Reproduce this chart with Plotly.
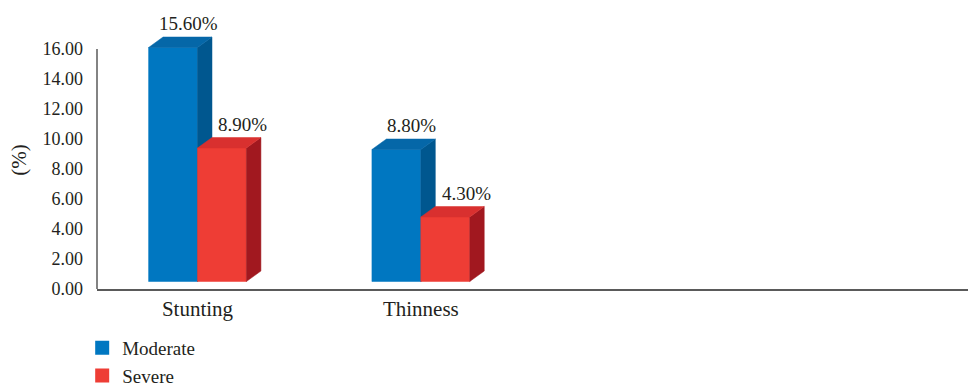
import plotly.graph_objects as go

# ---- data ----
categories = ["Stunting", "Thinness"]
series_names = ["Moderate", "Severe"]
moderate = [15.60, 8.80]
severe = [8.90, 4.30]
y_ticks = [0, 2, 4, 6, 8, 10, 12, 14, 16]

# ---- style ----
W, H = 968, 387
ML, MR, MT, MB = 97, 0, 31, 98
XR = [-0.45, 3.45]
YR = [0, 17.2]
px_x = (W - ML - MR) / (XR[1] - XR[0])
px_y = (H - MT - MB) / (YR[1] - YR[0])
DX = 14.5 / px_x          # 3D depth offset (data units)
DY = 10.5 / px_y
BASE = 0.5                # 3D floor lift
BAR_W = 0.219
FONT = "Liberation Serif"
TXT = "#231f20"
AXC = "#5a5a5a"

colors = {
    "Moderate": dict(front="#0077c1", side="#00578f", top="#0567a8"),
    "Severe": dict(front="#ee3d35", side="#a1181f", top="#d9302f"),
}
label_dx = {"Moderate": 15, "Severe": 21}

fig = go.Figure()

def poly(xs, ys, color):
    fig.add_trace(go.Scatter(x=xs + [xs[0]], y=ys + [ys[0]], fill="toself",
                             fillcolor=color, mode="lines",
                             line=dict(width=0.5, color=color),
                             hoverinfo="skip", showlegend=False))

annotations = []
for ci, cat in enumerate(categories):
    for si, (name, vals) in enumerate([("Moderate", moderate), ("Severe", severe)]):
        v = vals[ci]
        x0 = ci - BAR_W if si == 0 else ci
        x1 = x0 + BAR_W
        yb = BASE
        yt = BASE + v
        c = colors[name]
        poly([x0, x1, x1, x0], [yb, yb, yt, yt], c["front"])
        poly([x1, x1 + DX, x1 + DX, x1], [yb, yb + DY, yt + DY, yt], c["side"])
        poly([x0, x1, x1 + DX, x0 + DX], [yt, yt, yt + DY, yt + DY], c["top"])
        annotations.append(dict(x=(x0 + x1) / 2, y=yt, xref="x", yref="y",
                                text=f"{v:.2f}%", showarrow=False,
                                xshift=label_dx[name], yshift=24,
                                yanchor="middle",
                                font=dict(family=FONT, size=19, color=TXT)))

# legend entries
for name in series_names:
    fig.add_trace(go.Scatter(x=[None], y=[None], mode="markers", name=name,
                             legendgroup=name,
                             marker=dict(symbol="square", size=14,
                                         color=colors[name]["front"])))

fig.update_layout(
    width=W, height=H,
    margin=dict(l=ML, r=MR, t=MT, b=MB, autoexpand=False),
    paper_bgcolor="white", plot_bgcolor="white",
    font=dict(family=FONT, size=19, color=TXT),
    annotations=annotations,
    shapes=[dict(type="line", xref="paper", yref="y", x0=0, x1=0,
                 y0=YR[0], y1=y_ticks[-1], line=dict(color=AXC, width=1.5))],
    showlegend=True,
    legend=dict(x=-0.017, y=-0.155, xanchor="left", yanchor="top",
                orientation="v", tracegroupgap=0,
                font=dict(family=FONT, size=19, color=TXT),
                bgcolor="rgba(0,0,0,0)"),
    xaxis=dict(range=XR, tickvals=list(range(len(categories))),
               ticktext=categories, showgrid=False, zeroline=False,
               showline=True, linecolor=AXC, linewidth=2,
               ticks="", ticklabelstandoff=0,
               tickfont=dict(family=FONT, size=21, color=TXT)),
    yaxis=dict(range=YR, tickvals=y_ticks,
               ticktext=[f"{t:.2f}" for t in y_ticks],
               showgrid=False, zeroline=False, showline=False,
               ticks="", ticklabelstandoff=13,
               title=dict(text="(%)", standoff=10,
                          font=dict(family=FONT, size=21, color=TXT)),
               tickfont=dict(family=FONT, size=18, color=TXT)),
)

fig.write_html("out.html")
